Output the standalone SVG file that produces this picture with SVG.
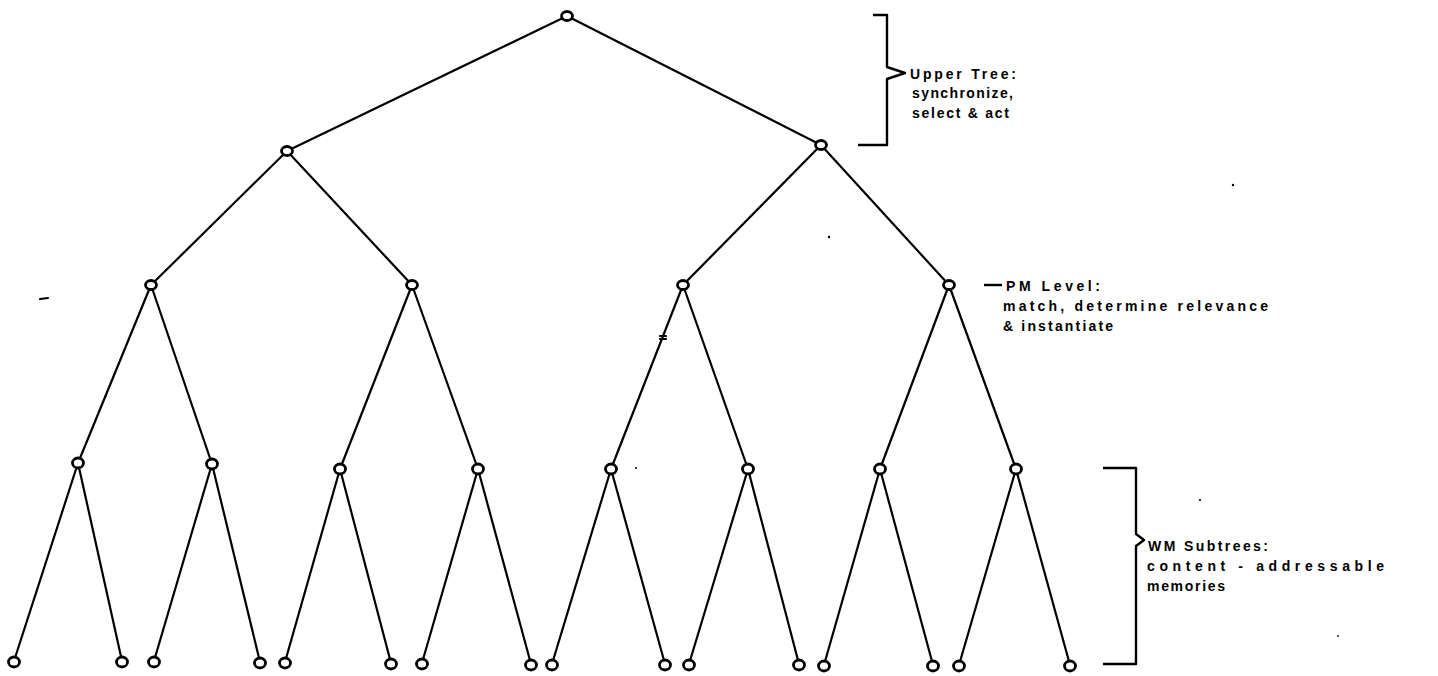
<svg xmlns="http://www.w3.org/2000/svg" width="1438" height="676" viewBox="0 0 1438 676">
<style>
.e{stroke:#000;stroke-width:2.2;stroke-linecap:round;fill:none}
.n{stroke:#000;stroke-width:2.8;fill:#fff}
.b{stroke:#000;stroke-width:2.4;fill:none;stroke-linejoin:round}
.t{font-family:"Liberation Sans",Arial,sans-serif;font-size:14px;font-weight:bold;fill:#000}
.s{fill:#000}
</style>
<rect width="1438" height="676" fill="#fff"/>
<g id="connectors">
<line class="e" x1="567" y1="16" x2="287" y2="151"/>
<line class="e" x1="567" y1="16" x2="821" y2="145"/>
<line class="e" x1="287" y1="151" x2="151" y2="285"/>
<line class="e" x1="287" y1="151" x2="412" y2="285"/>
<line class="e" x1="821" y1="145" x2="683" y2="285"/>
<line class="e" x1="821" y1="145" x2="949" y2="285"/>
<line class="e" x1="151" y1="285" x2="78" y2="463"/>
<line class="e" x1="151" y1="285" x2="212" y2="464"/>
<line class="e" x1="412" y1="285" x2="340" y2="469"/>
<line class="e" x1="412" y1="285" x2="478" y2="469"/>
<line class="e" x1="683" y1="285" x2="611" y2="469"/>
<line class="e" x1="683" y1="285" x2="748" y2="469"/>
<line class="e" x1="949" y1="285" x2="880" y2="469"/>
<line class="e" x1="949" y1="285" x2="1016" y2="469"/>
<line class="e" x1="78" y1="463" x2="14" y2="661"/>
<line class="e" x1="78" y1="463" x2="122" y2="661"/>
<line class="e" x1="212" y1="464" x2="154" y2="661"/>
<line class="e" x1="212" y1="464" x2="260" y2="662"/>
<line class="e" x1="340" y1="469" x2="285" y2="662"/>
<line class="e" x1="340" y1="469" x2="391" y2="663"/>
<line class="e" x1="478" y1="469" x2="422" y2="663"/>
<line class="e" x1="478" y1="469" x2="531" y2="664"/>
<line class="e" x1="611" y1="469" x2="552" y2="664"/>
<line class="e" x1="611" y1="469" x2="665" y2="664"/>
<line class="e" x1="748" y1="469" x2="689" y2="664"/>
<line class="e" x1="748" y1="469" x2="799" y2="664"/>
<line class="e" x1="880" y1="469" x2="824" y2="665"/>
<line class="e" x1="880" y1="469" x2="933" y2="665"/>
<line class="e" x1="1016" y1="469" x2="959" y2="665"/>
<line class="e" x1="1016" y1="469" x2="1070" y2="665"/>
</g>
<g id="root"><ellipse class="n" cx="567" cy="16" rx="5.5" ry="4.5"/></g>
<g id="n1a"><ellipse class="n" cx="287" cy="151" rx="5.5" ry="4.5"/></g>
<g id="n1b"><ellipse class="n" cx="821" cy="145" rx="5.5" ry="4.5"/></g>
<g id="n2a"><ellipse class="n" cx="151" cy="285" rx="5.5" ry="4.5"/></g>
<g id="n2b"><ellipse class="n" cx="412" cy="285" rx="5.5" ry="4.5"/></g>
<g id="n2c"><ellipse class="n" cx="683" cy="285" rx="5.5" ry="4.5"/></g>
<g id="n2d"><ellipse class="n" cx="949" cy="285" rx="5.5" ry="4.5"/></g>
<g id="n3a"><ellipse class="n" cx="78" cy="463" rx="5.5" ry="5"/></g>
<g id="n3b"><ellipse class="n" cx="212" cy="464" rx="5.5" ry="5"/></g>
<g id="n3c"><ellipse class="n" cx="340" cy="469" rx="5.5" ry="5"/></g>
<g id="n3d"><ellipse class="n" cx="478" cy="469" rx="5.5" ry="5"/></g>
<g id="n3e"><ellipse class="n" cx="611" cy="469" rx="5.5" ry="5"/></g>
<g id="n3f"><ellipse class="n" cx="748" cy="469" rx="5.5" ry="5"/></g>
<g id="n3g"><ellipse class="n" cx="880" cy="469" rx="5.5" ry="5"/></g>
<g id="n3h"><ellipse class="n" cx="1016" cy="469" rx="5.5" ry="5"/></g>
<g id="leaf1"><ellipse class="n" cx="14" cy="662" rx="5.5" ry="5"/></g>
<g id="leaf2"><ellipse class="n" cx="122" cy="662" rx="5.5" ry="5"/></g>
<g id="leaf3"><ellipse class="n" cx="154" cy="662" rx="5.5" ry="5"/></g>
<g id="leaf4"><ellipse class="n" cx="260" cy="663" rx="5.5" ry="5"/></g>
<g id="leaf5"><ellipse class="n" cx="285" cy="663" rx="5.5" ry="5"/></g>
<g id="leaf6"><ellipse class="n" cx="391" cy="664" rx="5.5" ry="5"/></g>
<g id="leaf7"><ellipse class="n" cx="422" cy="664" rx="5.5" ry="5"/></g>
<g id="leaf8"><ellipse class="n" cx="531" cy="665" rx="5.5" ry="5"/></g>
<g id="leaf9"><ellipse class="n" cx="552" cy="665" rx="5.5" ry="5"/></g>
<g id="leaf10"><ellipse class="n" cx="665" cy="665" rx="5.5" ry="5"/></g>
<g id="leaf11"><ellipse class="n" cx="689" cy="665" rx="5.5" ry="5"/></g>
<g id="leaf12"><ellipse class="n" cx="799" cy="665" rx="5.5" ry="5"/></g>
<g id="leaf13"><ellipse class="n" cx="824" cy="666" rx="5.5" ry="5"/></g>
<g id="leaf14"><ellipse class="n" cx="933" cy="666" rx="5.5" ry="5"/></g>
<g id="leaf15"><ellipse class="n" cx="959" cy="666" rx="5.5" ry="5"/></g>
<g id="leaf16"><ellipse class="n" cx="1070" cy="666" rx="5.5" ry="5"/></g>
<g id="upper-label">
<path class="b" d="M873 15 H887 V67 L905 73 L887 79 V145 H858"/>
<text class="t" x="910" y="79" textLength="106" lengthAdjust="spacing">Upper  Tree:</text>
<text class="t" x="912" y="98" textLength="101" lengthAdjust="spacing">synchronize,</text>
<text class="t" x="912" y="118" textLength="97" lengthAdjust="spacing">select &amp; act</text>
</g>
<g id="pm-label">
<line class="b" x1="984" y1="285" x2="1002" y2="285"/>
<text class="t" x="1006" y="291" textLength="94" lengthAdjust="spacing">PM  Level:</text>
<text class="t" x="1003" y="311" textLength="265" lengthAdjust="spacing">match, determine relevance</text>
<text class="t" x="1003" y="331" textLength="110" lengthAdjust="spacing">&amp; instantiate</text>
</g>
<g id="wm-label">
<path class="b" d="M1103 468 H1136 V534 L1144 540 L1136 546 V664 H1103"/>
<text class="t" x="1148" y="551" textLength="120" lengthAdjust="spacing">WM  Subtrees:</text>
<text class="t" x="1147" y="571" textLength="237" lengthAdjust="spacing">content - addressable</text>
<text class="t" x="1147" y="591" textLength="78" lengthAdjust="spacing">memories</text>
</g>
<g id="specks">
<circle class="s" cx="1233" cy="185" r="1.2"/>
<circle class="s" cx="829" cy="237" r="1.2"/>
<line class="e" x1="40" y1="299" x2="48" y2="298" stroke-width="1.6"/>
<line class="e" x1="660" y1="336" x2="666" y2="336" stroke-width="1"/>
<line class="e" x1="660" y1="339" x2="666" y2="339" stroke-width="1"/>
<circle class="s" cx="636" cy="468" r="1"/>
<circle class="s" cx="1200" cy="500" r="1.1"/>
<circle class="s" cx="1338" cy="636" r="0.9"/>
</g>
</svg>
